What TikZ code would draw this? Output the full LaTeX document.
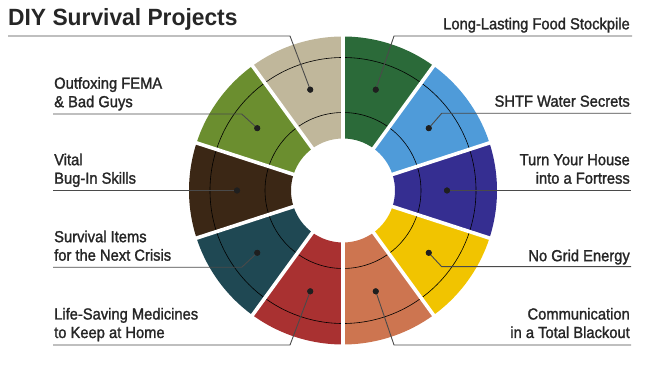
\documentclass[tikz,border=0pt]{standalone}
\usepackage{fontspec}
\setmainfont{Liberation Sans}[FakeStretch=0.92,FakeBold=1.5]
\newfontfamily\titlefont{Liberation Sans}[FakeStretch=0.97]
\usetikzlibrary{calc}
\definecolor{cTan}{HTML}{C0B79B}
\definecolor{cGreen}{HTML}{2B6A39}
\definecolor{cBlue}{HTML}{4F9BD9}
\definecolor{cIndigo}{HTML}{352E91}
\definecolor{cYellow}{HTML}{F1C400}
\definecolor{cOrange}{HTML}{CD7550}
\definecolor{cRed}{HTML}{A93131}
\definecolor{cTeal}{HTML}{1F4853}
\definecolor{cBrown}{HTML}{3B2715}
\definecolor{cOlive}{HTML}{6B8E2F}
\definecolor{txt}{HTML}{262626}
\definecolor{leadc}{HTML}{4A4A4A}
\tikzset{
  lab/.style={font=\fontsize{16}{18.5}\selectfont, text=txt, inner sep=0pt},
  labR/.style={lab, anchor=base east, align=right},
  labL/.style={lab, anchor=base west, align=left},
  leader/.style={draw=leadc, line width=0.9pt},
  arcline/.style={draw=black, line width=0.6pt},
  gap/.style={draw=white, line width=3.6pt},
  dotn/.style={circle, fill=black!88, inner sep=0pt, minimum size=6pt}
}
\begin{document}
\begin{tikzpicture}[x=1pt,y=1pt]
\useasboundingbox (0,0) rectangle (669,369);
\coordinate (C) at (343,178.5);
% ring segments
\foreach \a/\b/\col in {54/90/cGreen, 18/54/cBlue, -18/18/cIndigo, -54/-18/cYellow, -90/-54/cOrange, -126/-90/cRed, -162/-126/cTeal, 162/198/cBrown, 126/162/cOlive, 90/126/cTan}{
  \fill[\col, shift={(C)}] (\a:154) arc[start angle=\a, end angle=\b, radius=154]
     -- (\b:52) arc[start angle=\b, end angle=\a, radius=52] -- cycle;
}
% inner arcs
\draw[arcline] (C) circle[radius=78];
\draw[arcline] (C) circle[radius=133];
% gaps
\foreach \a in {90,54,18,-18,-54,-90,-126,-162,162,126}{
  \draw[gap] ($(C)+(\a:48)$) -- ($(C)+(\a:158)$);
}
% dots
\node[dotn] (dGreen)  at ($(C)+(72:106)$) {};
\node[dotn] (dBlue)   at ($(C)+(36:106)$) {};
\node[dotn] (dIndigo) at ($(C)+(0:104)$) {};
\node[dotn] (dYellow) at ($(C)+(-36:106)$) {};
\node[dotn] (dOrange) at ($(C)+(-72:106)$) {};
\node[dotn] (dRed)    at ($(C)+(-108:106)$) {};
\node[dotn] (dTeal)   at ($(C)+(-144:106)$) {};
\node[dotn] (dBrown)  at ($(C)+(180:106)$) {};
\node[dotn] (dOlive)  at ($(C)+(144:106)$) {};
\node[dotn] (dTan)    at ($(C)+(108:106)$) {};
% leader coordinates
\coordinate (eTan) at (290,333);     \coordinate (fTan) at (8,333);
\coordinate (eGreen) at (394,333);   \coordinate (fGreen) at (632,333);
\coordinate (eBlue) at (441.7,255.7);\coordinate (fBlue) at (631,255.7);
\coordinate (fIndigo) at (631,178.5);
\coordinate (eYellow) at (441.7,102.3); \coordinate (fYellow) at (631,102.3);
\coordinate (eOrange) at (394,24);   \coordinate (fOrange) at (631,24);
\coordinate (eRed) at (290,24);      \coordinate (fRed) at (53,24);
\coordinate (eTeal) at (241.7,101.7);\coordinate (fTeal) at (53,101.7);
\coordinate (fBrown) at (53,178.5);
\coordinate (eOlive) at (241.7,255); \coordinate (fOlive) at (53,255);
% leaders
\draw[leader] (dTan.center) -- (eTan) -- (fTan);
\draw[leader] (dGreen.center) -- (eGreen) -- (fGreen);
\draw[leader] (dBlue.center) -- (eBlue) -- (fBlue);
\draw[leader] (dIndigo.center) -- (fIndigo);
\draw[leader] (dYellow.center) -- (eYellow) -- (fYellow);
\draw[leader] (dOrange.center) -- (eOrange) -- (fOrange);
\draw[leader] (dRed.center) -- (eRed) -- (fRed);
\draw[leader] (dTeal.center) -- (eTeal) -- (fTeal);
\draw[leader] (dBrown.center) -- (fBrown);
\draw[leader] (dOlive.center) -- (eOlive) -- (fOlive);
% redraw dots on top
\foreach \n in {dGreen,dBlue,dIndigo,dYellow,dOrange,dRed,dTeal,dBrown,dOlive,dTan}{
  \fill[black!88] (\n.center) circle[radius=3pt];
}
% title
\node[anchor=base west, inner sep=0pt, text=txt, font=\titlefont\bfseries\fontsize{23.5}{26}\selectfont] (title) at (8,343) {DIY Survival Projects};
% labels
\node[labR] (lGreen)  at (630,339.7) {Long-Lasting Food Stockpile};
\node[labR] (lBlue)   at (630,262.3) {SHTF Water Secrets};
\node[labR] (lIndigo) at (630,185.3) {Turn Your House\\into a Fortress};
\node[labR] (lYellow) at (630,107.8) {No Grid Energy};
\node[labR] (lOrange) at (630,31) {Communication\\in a Total Blackout};
\node[labL] (lRed)    at (54,31) {Life-Saving Medicines\\to Keep at Home};
\node[labL] (lTeal)   at (54,108.3) {Survival Items\\for the Next Crisis};
\node[labL] (lBrown)  at (54,185.3) {Vital\\Bug-In Skills};
\node[labL] (lOlive)  at (54,261.8) {Outfoxing FEMA\\\& Bad Guys};
\end{tikzpicture}
\end{document}
